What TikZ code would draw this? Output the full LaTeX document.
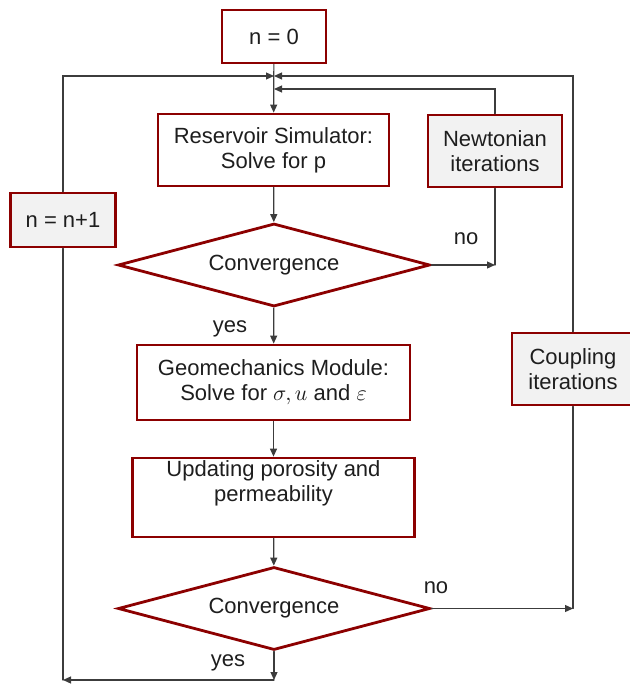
\documentclass[tikz,border=0pt]{standalone}
\usepackage{amsmath, amssymb}
\usepackage{fontspec}
\setmainfont{Liberation Sans}
\usepackage{tikz}
\usetikzlibrary{shapes.geometric,arrows.meta}
\usepackage{color}

\begin{document}
\begin{tikzpicture}
			[x=0.5pt,y=-0.5pt,line cap=round,
			%Styles
			>={Triangle[length=4pt,width=3.5pt]},
			flow line/.style={draw=linecolor,line width=0.6pt},
			main node/.style={rectangle,draw=boxcolor,line width=1.4pt,fill=white,
				align=center,inner sep=2pt,font=\fontsize{11}{12.5}\selectfont,text=textcolor},
			side node/.style={main node,fill=sidecolor},
			decision/.style={diamond,aspect=3.76,draw=boxcolor,line width=1.4pt,fill=white,inner sep=0pt,
				minimum width=156pt,minimum height=41.5pt,font=\fontsize{11}{12.5}\selectfont,text=textcolor},
			answer/.style={inner sep=0pt,font=\fontsize{11}{12.5}\selectfont,text=textcolor}
			]
			
			%Colors
			\colorlet{boxcolor}{red!55!black}	%box borders
			\definecolor{sidecolor}{RGB}{242,242,242}
			\definecolor{linecolor}{RGB}{60,60,60}
			\definecolor{textcolor}{RGB}{30,30,30}
			
			\useasboundingbox (0,0) rectangle (629,686);
			
			%The graphic
			\node[main node,minimum width=52pt,minimum height=26.5pt] (N0) at (274,36.5) {n = 0};
			\node[main node,minimum width=115.5pt,minimum height=36pt] (Res) at (273.5,150) {Reservoir Simulator:\\Solve for p};
			\node[side node,minimum width=67pt,minimum height=36pt] (Newt) at (495,151) {Newtonian\\iterations};
			\node[side node,minimum width=52.5pt,minimum height=27pt] (Inc) at (63,220) {n = n+1};
			\node[decision] (Conv1) at (274,265) {Convergence};
			\node[side node,minimum width=61pt,minimum height=36pt] (Coup) at (573,369) {Coupling\\iterations};
			\node[main node,minimum width=136.5pt,minimum height=37.5pt] (Geo) at (273.5,382.5) {Geomechanics Module:\\Solve for $\sigma,u$ and $\varepsilon$};
			\node[main node,inner sep=0pt,minimum width=141pt,minimum height=39.5pt] (Upd) at (273.5,497.5) {Updating porosity and\\permeability\\ \strut};
			\node[decision] (Conv2) at (274,608.5) {Convergence};
			
			\coordinate (J1) at (274,76);
			\coordinate (J2) at (274,89);
			\coordinate (B1) at (274,680);
			\coordinate (B2) at (63,680);
			
			\node[answer] (No1) at (466,239) {no};
			\node[answer] (Yes1) at (230,329) {yes};
			\node[answer] (No2) at (436,588) {no};
			\node[answer] (Yes2) at (228,663) {yes};
			
			%Main column
			\draw[flow line,->] (N0) -- (Res);
			\draw[flow line,->] (Res) -- (Conv1);
			\draw[flow line,->] (Conv1) -- (Geo);
			\draw[flow line,->] (Geo) -- (Upd);
			\draw[flow line,->] (Upd) -- (Conv2);
			
			%Newtonian loop
			\draw[flow line,->] (Conv1.east) -- (Conv1.east -| Newt);
			\draw[flow line] (Conv1.east -| Newt) -- (Newt.south);
			\draw[flow line,->] (Newt.north) |- (J2);
			
			%Coupling loop
			\draw[flow line,->] (Conv2.east) -- (Conv2.east -| Coup);
			\draw[flow line] (Conv2.east -| Coup) -- (Coup.south);
			\draw[flow line,->] (Coup.north) |- (J1);
			
			%Time step loop
			\draw[flow line,->] (Conv2.south) -- (B1);
			\draw[flow line,->] (B1) -- (B2);
			\draw[flow line] (B2) -- (Inc.south);
			\draw[flow line,->] (Inc.north) |- (J1);
		\end{tikzpicture}
\end{document}
